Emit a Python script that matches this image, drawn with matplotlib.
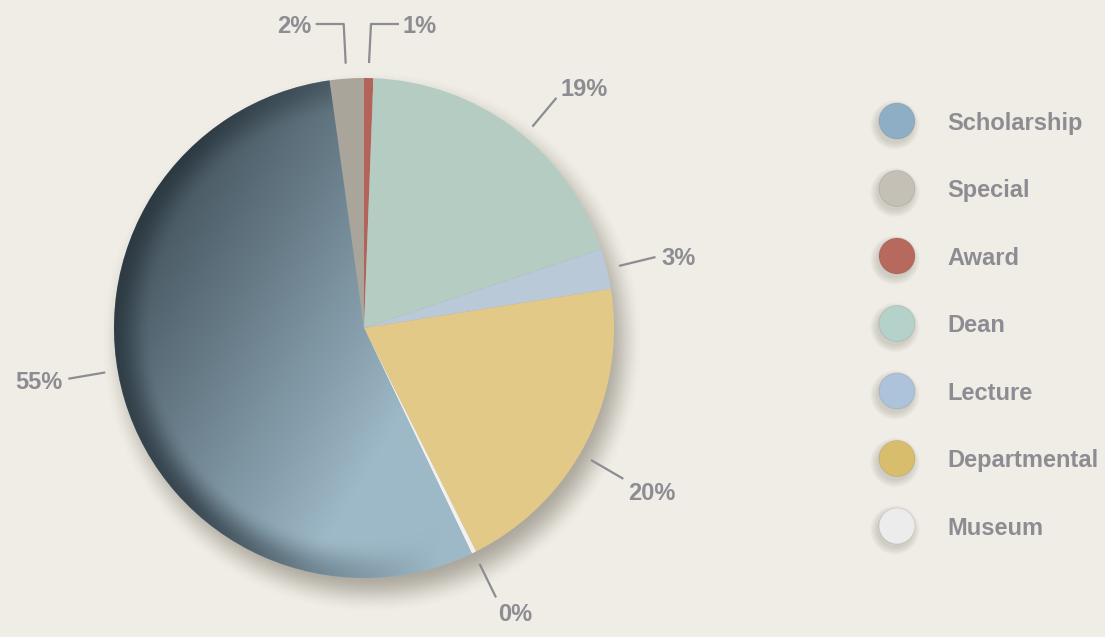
import numpy as np
import matplotlib.pyplot as plt
from matplotlib.patches import Circle

# data
categories = ['Scholarship', 'Special', 'Award', 'Dean', 'Lecture', 'Departmental', 'Museum']
values = [54.9, 2.2, 0.6, 19.3, 2.6, 20.1, 0.3]

slice_colors = ['#9db8c6', '#aaa59a', '#b2635a', '#b5ccc3', '#b9c9d7', '#e2c987', '#f1f1ef']
legend_colors = ['#8eaec6', '#c4c0b5', '#b8695d', '#b4d2ca', '#adc2db', '#d8be6c', '#ececec']

bg = '#efede5'
text_grey = '#8d8c93'
font = ['Liberation Sans', 'DejaVu Sans']

# small slices get elbow leaders to the top, others a straight radial line
elbow = {'Special': -1, 'Award': 1}
label_nudge = {'Scholarship': -7, 'Dean': -3, 'Departmental': -3}

fig = plt.figure(figsize=(11.05, 6.37), dpi=100)
fig.patch.set_facecolor(bg)
ax = fig.add_axes([0, 0, 1, 1])
ax.set_facecolor(bg)

cx, cy, R = 364, 309, 250

# soft drop shadow under the pie
n = 500
gx = np.linspace(cx - R - 60, cx + R + 60, n)
gy = np.linspace(cy - R - 60, cy + R + 60, n)
X, Y = np.meshgrid(gx, gy)
d = np.hypot(X - (cx + 8), Y - (cy - 14))
s = np.clip((R + 22 - d) / 40, 0, 1)
s = s * s * (3 - 2 * s)
shadow = np.zeros((n, n, 4))
shadow[..., 0:3] = np.array([0.35, 0.32, 0.27])
shadow[..., 3] = 0.45 * s
ax.imshow(shadow, extent=(gx[0], gx[-1], gy[0], gy[-1]), origin='lower', zorder=1, interpolation='bilinear')

startangle = 90 + 3.6 * (values[0] + values[1])
wedges, _ = ax.pie(values, colors=slice_colors, startangle=startangle, counterclock=False,
                   center=(cx, cy), radius=R, wedgeprops=dict(linewidth=0, zorder=2))

# moon-like shading on the big slice: darker towards the upper left, dark rim on the left limb
gx = np.linspace(cx - R, cx + R, n)
gy = np.linspace(cy - R, cy + R, n)
X, Y = np.meshgrid(gx, gy)
xn = (X - cx) / R
yn = (Y - cy) / R
r = np.hypot(xn, yn)
t = np.clip(0.82 + 0.5 * xn - 0.3 * yn, 0, 1)
rim = np.clip((r - 0.85) / 0.15, 0, 1)
rim = rim * rim * (3 - 2 * rim)
w = np.clip(-xn + 0.3, 0, 1)
t = t * (1 - 0.75 * rim * w)
dark = np.array([0x26, 0x32, 0x3a]) / 255
light = np.array([0x9d, 0xb8, 0xc7]) / 255
shade = np.zeros((n, n, 4))
shade[..., 0:3] = dark + (light - dark) * t[..., None]
shade[..., 3] = 1
im = ax.imshow(shade, extent=(gx[0], gx[-1], gy[0], gy[-1]), origin='lower', zorder=3, interpolation='bilinear')
im.set_clip_path(wedges[0])

# percentage labels
total = sum(values)
a = startangle
for name, v in zip(categories, values):
    t1 = a
    t2 = a - v / total * 360
    a = t2
    mid = np.radians((t1 + t2) / 2 + label_nudge.get(name, 0))
    lab = f'{round(v / total * 100)}%'
    ux, uy = np.cos(mid), np.sin(mid)
    if name in elbow:
        side = elbow[name]
        x0, y0 = cx + 1.06 * R * ux, cy + 1.06 * R * uy
        ytop = 637 - 24
        x1 = x0 + side * 2
        x2 = x1 + side * 28
        ax.plot([x0, x1, x2], [y0, ytop, ytop], color=text_grey, lw=1.6, zorder=5, solid_capstyle='butt')
        ax.text(x2 + side * 4, ytop, lab, ha='left' if side > 0 else 'right', va='center_baseline',
                fontsize=17, fontweight='bold', color=text_grey, family=font, zorder=6)
        continue
    x0, y0 = cx + 1.05 * R * ux, cy + 1.05 * R * uy
    x1, y1 = cx + 1.2 * R * ux, cy + 1.2 * R * uy
    ax.plot([x0, x1], [y0, y1], color=text_grey, lw=1.6, zorder=5, solid_capstyle='butt')
    ha = 'left' if ux > 0.4 else ('right' if ux < -0.4 else 'center')
    if uy > 0.6:
        va, off = 'baseline', 2
    elif uy < -0.4:
        va, off = 'top', 6
    else:
        va, off = 'center_baseline', 6
    ax.text(x1 + 6 * ux, y1 + off * uy, lab, ha=ha, va=va, fontsize=17, fontweight='bold',
            color=text_grey, family=font, zorder=6)

# legend
lx, ly0, dy = 897, 637 - 121, 67.5
for i, (name, c) in enumerate(zip(categories, legend_colors)):
    y = ly0 - i * dy
    for k in range(6):
        ax.add_patch(Circle((lx - 2, y - 4), 18 + k * 1.3, facecolor='#5a5448', alpha=0.035, lw=0, zorder=4))
    ax.add_patch(Circle((lx, y), 18, facecolor=c, edgecolor='#00000014', lw=0.8, zorder=5))
    ax.text(947, y, name, ha='left', va='center_baseline', fontsize=17, fontweight='bold',
            color=text_grey, family=font, zorder=6)

ax.set_xlim(0, 1105)
ax.set_ylim(0, 637)
ax.set_aspect('auto')
ax.axis('off')

fig.savefig('out.png', dpi=100, facecolor=bg)
